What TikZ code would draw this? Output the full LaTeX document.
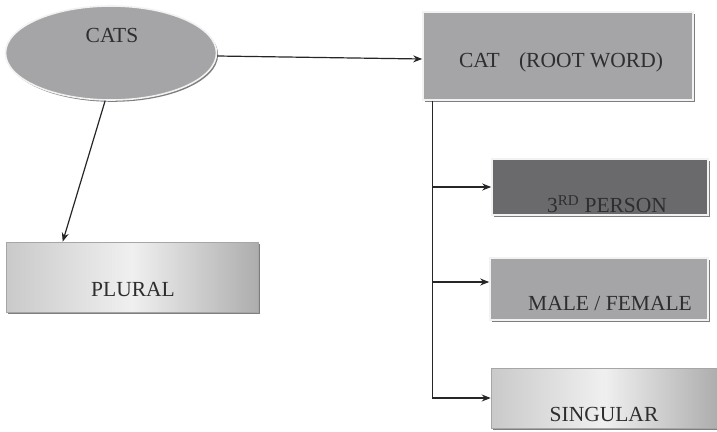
\documentclass[tikz,border=0pt]{standalone}
\usepackage{fontspec}
\setmainfont{Liberation Serif}
\usetikzlibrary{calc,shapes.geometric,shadows,arrows.meta}
\definecolor{txt}{HTML}{2E2E30}
\definecolor{midgray}{HTML}{A5A5A7}
\definecolor{darkgray}{HTML}{6A6A6C}
\definecolor{rim}{HTML}{F2F2F2}
\definecolor{shade}{HTML}{707070}
\tikzset{
  base/.style={draw=rim, line width=1.6pt, text=txt, inner sep=0pt,
    drop shadow={shadow xshift=1.6pt, shadow yshift=-1.8pt, fill=shade, opacity=0.9}},
  flatbox/.style={base, rectangle, fill=midgray},
  darkbox/.style={base, rectangle, fill=darkgray},
  glossbox/.style={base, rectangle, draw=gray!70, line width=0.6pt,
    shading=axis, shading angle=75,
    left color=gray!42, right color=gray!64, middle color=gray!12},
  oval/.style={base, ellipse, fill=midgray},
  link/.style={draw=black!85, line width=1.2pt},
  arrow/.style={link, -{Stealth[length=9pt,width=7pt]}},
  label/.style={text=txt, font=\fontsize{21.5}{24}\selectfont, inner sep=0pt}
}
\begin{document}
\begin{tikzpicture}[x=1pt, y=-1pt]
\useasboundingbox (0,0) rectangle (717,431);

% shapes
\node[oval, minimum width=211pt, minimum height=94pt] (cats) at (111,53) {};
\node[flatbox, minimum width=270pt, minimum height=88pt] (root) at (558,56) {};
\node[glossbox, minimum width=252pt, minimum height=70pt] (plural) at (132,277) {};
\node[darkbox, minimum width=216pt, minimum height=56pt] (person) at (600,187) {};
\node[flatbox, minimum width=218pt, minimum height=62pt] (gender) at (599,289) {};
\node[glossbox, minimum width=226pt, minimum height=60pt] (singular) at (604,398) {};

% labels
\node[label] (tcats) at (112,35) {CATS};
\node[label] (troot) at (561,62) {CAT\hspace{0.9em}(ROOT WORD)};
\node[label] (tplural) at (133,290) {PLURAL};
\node[label] (tperson) at (607,204) {3\textsuperscript{RD} PERSON};
\node[label] (tgender) at (610,304) {MALE / FEMALE};
\node[label] (tsingular) at (604,414) {SINGULAR};

% connectors
\draw[arrow] ($(cats.east)+(0,3)$) -- ($(root.west)+(0,3)$);
\draw[arrow] (cats.263) -- ($(plural.north west)+(57,0)$);
\coordinate (trunk) at ($(root.south west)+(10,0)$);
\draw[arrow] (trunk) |- (singular.west);
\draw[arrow] (trunk |- person.west) -- (person.west);
\draw[arrow] ($(trunk |- gender.west)+(0,-7)$) -- ($(gender.west)+(0,-7)$);
\end{tikzpicture}
\end{document}
